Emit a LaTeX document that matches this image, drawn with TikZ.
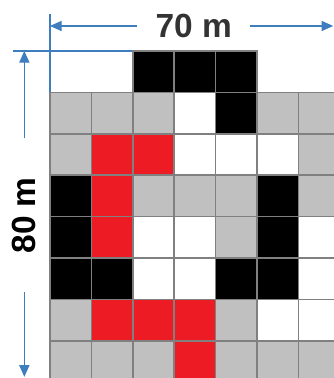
\documentclass[tikz,border=0pt]{standalone}
\usepackage{fontspec}
\setmainfont{Liberation Sans}
\usetikzlibrary{arrows.meta}
\definecolor{cellgray}{RGB}{192,192,192}
\definecolor{cellred}{RGB}{237,28,36}
\definecolor{gridline}{RGB}{128,128,128}
\definecolor{dimblue}{RGB}{62,126,190}
\definecolor{labelgray}{RGB}{51,51,51}
\tikzset{
	cell/.style={draw=gridline, line width=1pt},
	graycell/.style={cell, fill=cellgray},
	blackcell/.style={cell, fill=black},
	redcell/.style={cell, fill=cellred},
	whitecell/.style={cell, fill=white},
	dimline/.style={draw=dimblue, line width=0.7pt},
	dimarrow/.style={dimline, -{Triangle[length=8pt,width=7pt]}},
	dimlabel/.style={font=\bfseries\fontsize{23}{23}\selectfont, inner ysep=2pt},
}
\begin{document}
\begin{tikzpicture}
	\useasboundingbox (-1.208, 1.232) rectangle (6.860, -7.899);
	\clip (-1.208, 1.232) rectangle (6.860, -7.899);
	
	% extension lines
	\coordinate (extL) at (-0.89, 0);
	\coordinate (extR) at (2, 0);
	\coordinate (extT) at (0, 0.89);
	\coordinate (extB) at (0, -1);
	\draw [dimline] (extL) -- (extR);
	\draw [dimline] (extT) -- (extB);
	
	% width
	\coordinate (wL) at (0, 0.604);
	\coordinate (wR) at (6.84, 0.604);
	\node [dimlabel, text=labelgray, inner xsep=0.43cm] (wlab) at (3.47, 0.604) {70 m};
	\draw [dimarrow] (wlab.west) -- (wL);
	\draw [dimarrow] (wlab.east) -- (wR);
	
	% height
	\coordinate (hT) at (-0.62, 0);
	\coordinate (hB) at (-0.62, -7.87);
	\node [dimlabel, text=black, rotate=90, inner xsep=0.93cm] (hlab) at (-0.62, -3.97) {80 m};
	\draw [dimarrow] (hlab.east) -- (hT);
	\draw [dimarrow] (hlab.west) -- (hB);
	
	% row 0
	\draw [blackcell] (2, 0) rectangle (3, -1);
	\draw [blackcell] (3, 0) rectangle (4, -1);
	\draw [blackcell] (4, 0) rectangle (5, -1);
	
	% row 1
	\draw [graycell] (0, -1) rectangle (1, -2);
	\draw [graycell] (1, -1) rectangle (2, -2);
	\draw [graycell] (2, -1) rectangle (3, -2);
	\draw [whitecell] (3, -1) rectangle (4, -2);
	\draw [blackcell] (4, -1) rectangle (5, -2);
	\draw [graycell] (5, -1) rectangle (6, -2);
	\draw [graycell] (6, -1) rectangle (7, -2);
	
	% row 2
	\draw [graycell] (0, -2) rectangle (1, -3);
	\draw [redcell] (1, -2) rectangle (2, -3);
	\draw [redcell] (2, -2) rectangle (3, -3);
	\draw [whitecell] (3, -2) rectangle (4, -3);
	\draw [whitecell] (4, -2) rectangle (5, -3);
	\draw [whitecell] (5, -2) rectangle (6, -3);
	\draw [graycell] (6, -2) rectangle (7, -3);
	
	% row 3
	\draw [blackcell] (0, -3) rectangle (1, -4);
	\draw [redcell] (1, -3) rectangle (2, -4);
	\draw [graycell] (2, -3) rectangle (3, -4);
	\draw [graycell] (3, -3) rectangle (4, -4);
	\draw [graycell] (4, -3) rectangle (5, -4);
	\draw [blackcell] (5, -3) rectangle (6, -4);
	\draw [graycell] (6, -3) rectangle (7, -4);
	
	% row 4
	\draw [blackcell] (0, -4) rectangle (1, -5);
	\draw [redcell] (1, -4) rectangle (2, -5);
	\draw [whitecell] (2, -4) rectangle (3, -5);
	\draw [whitecell] (3, -4) rectangle (4, -5);
	\draw [graycell] (4, -4) rectangle (5, -5);
	\draw [blackcell] (5, -4) rectangle (6, -5);
	\draw [whitecell] (6, -4) rectangle (7, -5);
	
	% row 5
	\draw [blackcell] (0, -5) rectangle (1, -6);
	\draw [blackcell] (1, -5) rectangle (2, -6);
	\draw [whitecell] (2, -5) rectangle (3, -6);
	\draw [whitecell] (3, -5) rectangle (4, -6);
	\draw [blackcell] (4, -5) rectangle (5, -6);
	\draw [blackcell] (5, -5) rectangle (6, -6);
	\draw [whitecell] (6, -5) rectangle (7, -6);
	
	% row 6
	\draw [graycell] (0, -6) rectangle (1, -7);
	\draw [redcell] (1, -6) rectangle (2, -7);
	\draw [redcell] (2, -6) rectangle (3, -7);
	\draw [redcell] (3, -6) rectangle (4, -7);
	\draw [graycell] (4, -6) rectangle (5, -7);
	\draw [whitecell] (5, -6) rectangle (6, -7);
	\draw [whitecell] (6, -6) rectangle (7, -7);
	
	% row 7
	\draw [graycell] (0, -7) rectangle (1, -8);
	\draw [graycell] (1, -7) rectangle (2, -8);
	\draw [graycell] (2, -7) rectangle (3, -8);
	\draw [redcell] (3, -7) rectangle (4, -8);
	\draw [graycell] (4, -7) rectangle (5, -8);
	\draw [graycell] (5, -7) rectangle (6, -8);
	\draw [graycell] (6, -7) rectangle (7, -8);
\end{tikzpicture}
\end{document}
